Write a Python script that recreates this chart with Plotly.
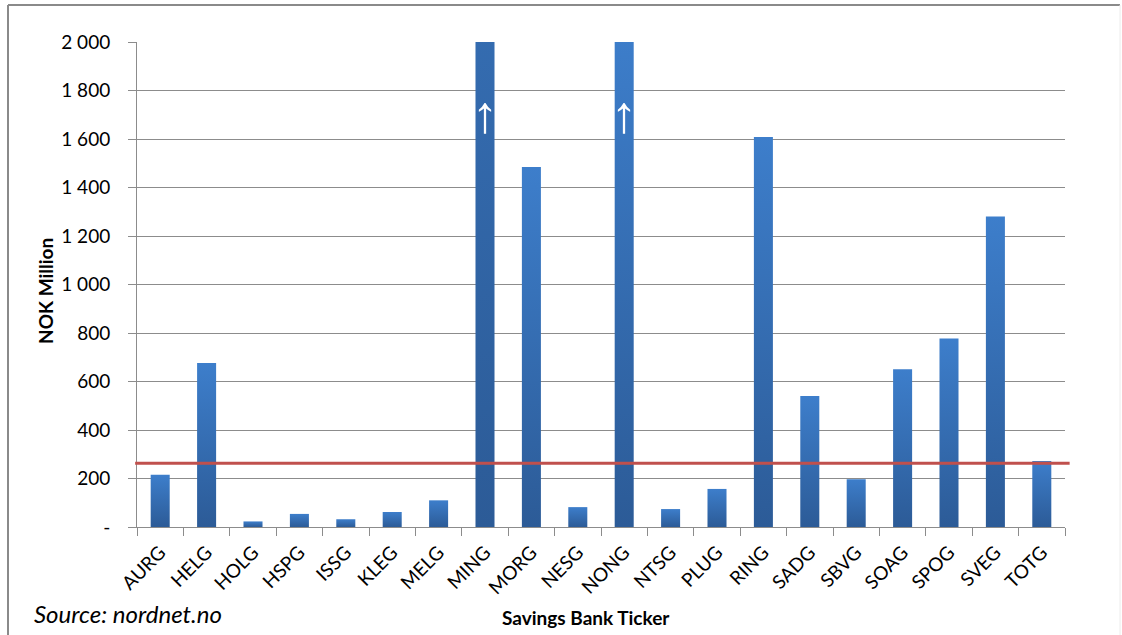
import plotly.graph_objects as go

# Savings bank tickers and their values (NOK million)
tickers = ["AURG", "HELG", "HOLG", "HSPG", "ISSG", "KLEG", "MELG", "MING", "MORG", "NESG",
           "NONG", "NTSG", "PLUG", "RING", "SADG", "SBVG", "SOAG", "SPOG", "SVEG", "TOTG"]
values = [215, 676, 23, 54, 32, 62, 110, 4200, 1485, 82,
          2060, 74, 157, 1608, 540, 197, 651, 777, 1280, 272]

reference_level = 263          # horizontal red reference line
y_cap = 2000                   # axis ceiling; taller bars are marked with an arrow
y_ticks = [0, 200, 400, 600, 800, 1000, 1200, 1400, 1600, 1800, 2000]
y_tick_labels = ["-", "200", "400", "600", "800", "1 000", "1 200", "1 400", "1 600", "1 800", "2 000"]

FONT = "Lato, 'Open Sans', sans-serif"
GRID = "#8c8c8c"
HALF_W = 0.205

# plot area in pixels
W, H = 1122, 635
L, R, T, B = 137, 57, 42, 108
pw, ph = W - L - R, H - T - B


def px_x(p):
    return (p - L) / pw


def px_y(p):
    return 1 - (p - T) / ph


fig = go.Figure()

for i, v in enumerate(values):
    fig.add_trace(go.Scatter(
        x=[i - HALF_W, i + HALF_W, i + HALF_W, i - HALF_W, i - HALF_W],
        y=[0, 0, v, v, 0],
        mode="lines",
        line=dict(width=0, color="rgba(0,0,0,0)"),
        fill="toself",
        fillgradient=dict(type="vertical",
                          colorscale=[[0, "#2c5b97"], [1, "#3d7ecb"]]),
        showlegend=False,
        hoverinfo="text",
        text=f"{tickers[i]}: {v}",
    ))
    if v > y_cap:
        fig.add_annotation(x=i, y=1705, text="↑", showarrow=False,
                           font=dict(family="Liberation Sans", size=52, color="white"),
                           xref="x", yref="y")

# reference line
fig.add_shape(type="line", xref="paper", yref="y",
              x0=-0.002, x1=1.005, y0=reference_level, y1=reference_level,
              line=dict(color="#c0504d", width=3), layer="above")

# outer chart frame
fig.add_shape(type="line", xref="paper", yref="paper",
              x0=px_x(8), x1=px_x(8), y0=px_y(5), y1=px_y(640),
              line=dict(color="#8a8a8a", width=2))
fig.add_shape(type="line", xref="paper", yref="paper",
              x0=px_x(8), x1=px_x(1120), y0=px_y(5), y1=px_y(5),
              line=dict(color="#8a8a8a", width=2))
fig.add_shape(type="line", xref="paper", yref="paper",
              x0=px_x(1120), x1=px_x(1120), y0=px_y(5), y1=px_y(640),
              line=dict(color="#ececec", width=1))

# axis titles and source note
fig.add_annotation(text="<b>Savings Bank Ticker</b>", xref="paper", yref="paper",
                   x=px_x(586), y=px_y(617), xanchor="center", yanchor="middle",
                   showarrow=False, font=dict(family=FONT, size=19, color="black"))
fig.add_annotation(text="<b>NOK Million</b>", xref="paper", yref="paper",
                   x=px_x(45), y=px_y(291), xanchor="center", yanchor="middle",
                   textangle=-90,
                   showarrow=False, font=dict(family=FONT, size=19, color="black"))
fig.add_annotation(text="<i>Source: nordnet.no</i>", xref="paper", yref="paper",
                   x=px_x(32), y=px_y(613), xanchor="left", yanchor="middle",
                   showarrow=False, font=dict(family=FONT, size=24, color="black"))

fig.update_layout(
    width=W, height=H,
    margin=dict(l=L, r=R, t=T, b=B, autoexpand=False),
    paper_bgcolor="white", plot_bgcolor="white",
    font=dict(family=FONT, size=19, color="black"),
    xaxis=dict(
        range=[-0.5, len(tickers) - 0.5],
        tickmode="array", tickvals=list(range(len(tickers))), ticktext=tickers,
        tickangle=-45, ticks="", showgrid=False, zeroline=False,
        showline=True, linecolor=GRID, linewidth=1,
        ticklabelstandoff=6, automargin=False,
        tickfont=dict(size=19),
        minor=dict(tickmode="array",
                   tickvals=[k - 0.5 for k in range(len(tickers) + 1)],
                   ticks="outside", ticklen=8, tickcolor=GRID, showgrid=False),
    ),
    yaxis=dict(
        range=[0, y_cap],
        tickmode="array", tickvals=y_ticks, ticktext=y_tick_labels,
        ticks="outside", ticklen=8, tickcolor=GRID,
        tickfont=dict(size=19),
        showgrid=True, gridcolor=GRID, gridwidth=1,
        zeroline=False, showline=True, linecolor=GRID, linewidth=1,
        ticklabelstandoff=14, automargin=False,
    ),
)

fig.write_html("out.html")
